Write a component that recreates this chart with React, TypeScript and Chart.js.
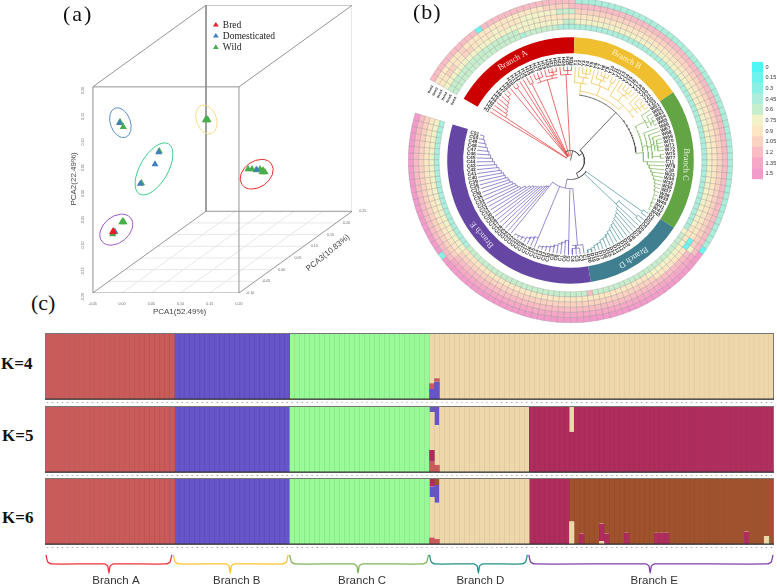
import { useEffect, useRef } from 'react';
import { Chart, registerables } from 'chart.js';
Chart.register(...registerables);

const SERIF = '"Liberation Serif"';
const SANS = '"Liberation Sans"';

// ---------- (a) PCA, read against the front-face axes ----------
const PCA_X_TICKS = [-0.05, 0, 0.05, 0.1, 0.15, 0.2];
const PCA_Y_TICKS = [-0.2, -0.15, -0.1, -0.05, 0, 0.05, 0.1, 0.15, 0.2];
const PCA_Z_TICKS = ['-0.10', '-0.05', '0.00', '0.05', '0.10', '0.15', '0.20', '0.25'];
const BRED = [{ x: -0.0148, y: -0.0802 }, { x: -0.0161, y: -0.0821 }];
const DOMESTICATED = [
  { x: -0.0042, y: 0.1301 }, { x: 0.0628, y: 0.0732 }, { x: 0.0565, y: 0.0499 },
  { x: 0.0314, y: 0.0121 }, { x: 0.2303, y: 0.0392 }, { x: -0.0119, y: -0.0812 },
];
const WILD = [
  { x: -0.0033, y: 0.132 }, { x: 0.0023, y: 0.1223 }, { x: 0.0637, y: 0.0751 }, { x: 0.0334, y: 0.013 },
  { x: 0.1437, y: 0.1367 }, { x: 0.1454, y: 0.1373 }, { x: 0.1428, y: 0.1353 }, { x: 0.1471, y: 0.1353 },
  { x: 0.2155, y: 0.0402 }, { x: 0.2223, y: 0.0402 }, { x: 0.2291, y: 0.0383 }, { x: 0.236, y: 0.0402 },
  { x: 0.2411, y: 0.0383 }, { x: 0.2445, y: 0.0344 }, { x: 0.2394, y: 0.0344 },
  { x: 0, y: -0.0627 }, { x: 0.0034, y: -0.0627 }, { x: 0.0017, y: -0.0608 }, { x: -0.0158, y: -0.086 }, { x: -0.0136, y: -0.0821 },
];
const PCA_RINGS = [
  { x: -0.0027, y: 0.1305, a: 15.5, b: 10, rot: 70, color: '#5b8fc7' },
  { x: 0.1443, y: 0.1367, a: 15, b: 10, rot: 70, color: '#fbdc82' },
  { x: 0.0548, y: 0.0408, a: 29, b: 14, rot: -60, color: '#3ecf8c' },
  { x: 0.2303, y: 0.0305, a: 18, b: 13, rot: -35, color: '#ee2b2b' },
  { x: -0.0097, y: -0.0771, a: 18.5, b: 13, rot: -40, color: '#9b59c9' },
];
const DEPTH_X = 0.1937;
const DEPTH_Y = 0.1586;

// ---------- (b) ring heat map: legend level of each sample, outer ring first ----------
const LEVEL_LABELS = ['0', '0.15', '0.3', '0.45', '0.6', '0.75', '0.9', '1.05', '1.2', '1.35', '1.5'];
const LEVEL_COLORS = ['#4ff6f6', '#6ff3ee', '#8cefe4', '#abeedb', '#c6eecd', '#f2f1c8', '#fde6c4', '#fbd2c2', '#f9bcc4', '#f6a8c6', '#f39bca'];
const RING_1 = [
  8,8,8,8,8,8,8,8,8,8, 1,8,8,8,8,8,8,8,8,8, 8,8,8,8,8,8,
  3,3,3,3,3,3,3,3,3,3, 3,3,3,3,3,3,3,3,3,3, 3,3,3,
  3,3,3,3,3,3,3,3,3,3, 3,3,3,3,3,3,3,3,3,3, 3,3,3,3,3,3,3,3,
  1,10,10,10,10,10,10,10,10,10, 10,10,10,10,10,10,10,10,10,10,
  10,10,10,10,10,10,10,10,10,10, 10,10,10,10,10,10,10,10,10,10, 10,10,10,10,10,10,2,10,10,10, 10,10,10,10,10,10,10,10,10,10, 10,10,10,10,10,10,10,10,10,
];
const RING_2 = [
  6,6,6,6,6,6,7,6,6,6, 6,6,6,6,6,6,6,6,6,6, 6,7,7,7,7,8,
  8,8,8,8,8,8,8,8,8,8, 8,8,8,8,8,8,8,8,8,8, 8,8,8,
  8,8,8,8,8,8,8,8,8,8, 8,8,8,8,8,8,8,8,8,8, 8,8,8,8,8,8,8,8,
  8,8,9,9,9,9,9,9,9,9, 9,9,9,9,9,9,9,9,9,9,
  9,9,9,9,9,9,9,9,9,9, 9,9,9,9,9,9,9,9,9,9, 9,9,9,9,9,8,8,8,8,8, 8,8,8,8,8,8,8,8,8,8, 8,8,8,8,8,8,8,8,8,
];
const RING_3 = [
  6,6,7,7,6,6,7,7,6,6, 6,6,5,6,6,6,6,5,5,5, 5,5,5,4,4,4,
  7,7,7,7,7,7,7,7,7,7, 7,7,7,7,7,7,7,7,7,7, 7,7,7,
  7,7,7,7,7,7,7,7,7,7, 7,7,7,7,7,7,7,7,7,7, 7,7,7,7,7,7,7,7,
  7,5,8,8,8,8,8,8,8,8, 8,8,8,8,8,8,8,8,8,8,
  8,8,8,8,8,8,8,8,8,8, 8,8,8,8,8,8,8,8,8,8, 8,8,8,8,8,7,7,7,7,7, 7,7,7,7,7,7,7,7,7,7, 7,7,7,7,7,7,7,7,7,
];
const RING_4 = [
  5,5,5,5,5,5,5,5,5,5, 5,5,5,5,5,5,5,5,5,5, 6,6,6,6,6,6,
  6,6,6,6,6,6,6,6,6,6, 6,6,6,6,6,6,6,6,6,6, 6,6,6,
  6,6,6,6,6,6,6,6,6,6, 6,6,6,6,6,6,6,6,6,6, 6,6,6,6,6,6,6,6,
  1,1,6,6,6,6,6,6,6,7, 7,7,7,7,7,7,7,7,7,7,
  7,7,7,7,7,7,7,7,7,7, 7,7,7,7,7,7,7,7,7,7, 7,7,7,7,7,6,6,6,6,6, 6,6,6,6,6,6,6,6,6,6, 6,6,6,6,6,6,6,6,6,
];
const RING_5 = [
  4,4,4,4,4,4,4,4,4,4, 4,4,4,4,4,4,5,5,5,5, 5,5,5,5,4,4,
  5,5,5,5,5,5,5,5,5,5, 5,5,5,5,5,5,5,5,5,5, 5,5,5,
  5,5,5,5,5,5,5,5,5,5, 5,5,5,5,5,5,5,5,5,5, 5,5,5,5,5,5,6,6,
  6,5,5,5,5,5,5,5,5,5, 6,6,6,6,6,6,6,6,6,6,
  6,6,6,6,6,6,6,6,6,6, 6,6,6,6,6,6,6,6,6,6, 6,6,6,6,6,5,5,5,5,5, 5,5,5,5,5,5,5,5,5,5, 5,5,5,5,5,5,5,5,5,
];
const RING_6 = [
  4,4,4,4,4,4,4,4,4,4, 4,4,4,4,4,4,3,4,4,4, 4,4,4,3,3,3,
  3,3,3,3,3,3,3,3,3,3, 3,3,3,3,3,3,3,3,3,3, 3,3,3,
  3,3,3,3,3,3,3,3,3,3, 3,3,3,3,3,3,3,3,3,3, 3,3,3,3,3,3,3,5,
  4,4,4,4,4,4,4,4,4,4, 4,4,4,4,4,4,4,4,4,4,
  8,4,4,4,4,4,4,4,4,4, 4,4,4,4,4,4,4,4,4,4, 4,4,4,4,4,3,3,3,3,3, 3,3,3,3,3,3,3,3,3,3, 3,3,3,3,3,3,3,3,3,
];
const RINGS = [RING_1, RING_2, RING_3, RING_4, RING_5, RING_6];
const BRANCH_NAMES = ['Branch A', 'Branch B', 'Branch C', 'Branch D', 'Branch E'];
const BRANCH_SIZES = [26, 23, 28, 20, 49];
const BRANCH_FILL = ['#cc0000', '#f0bf30', '#63a545', '#3f7f8f', '#6547a3'];
const BRANCH_TEXT_ANGLE = [330, 29, 92, 147, 230];
const BRANCH_TEXT_COLOR = ['#ffe0e0', '#fff4c8', '#e8f2dc', '#e0eef2', '#e4dcf4'];
const TREE_COLORS = ['#e84848', '#f5c451', '#8dbf6f', '#5f9ea8', '#7d6cc4'];
const RING_NAMES = ['Item1', 'Item2', 'Item3', 'Item4', 'Item5', 'Item6'];
const START_DEG = 300;
const STEP_DEG = 347 / 146;
const SAMPLE_NAMES = 'H1 H2 H3 H4 H5 H6 H7 H8 H9 H10 H11 H12 H13 H14 H15 H16 H17 H18 H19 H20 H21 H22 H23 H24 H25 H26 Y1 Y2 Y3 Y4 Y5 Y6 Y7 Y8 Y9 Y10 Y11 Y12 Y13 Y14 Y15 Y16 Y17 Y18 Y19 Y20 Y21 Y22 Y23 W61 W62 W63 W64 W65 W66 W67 W68 W69 W70 W71 W72 W75 W77 C11 W78 C18 W33 W34 W35 W36 W37 W38 W39 W40 W41 W42 W43 D1 D2 D3 D4 D5 D6 D7 D8 D9 D10 D11 D12 D13 D14 D15 D16 D17 D18 D19 D20 C1 C2 C3 C4 C5 C6 C7 C8 C9 C10 C12 C13 C14 C15 C16 C17 C19 C20 C21 C22 C23 C24 C25 C26 C27 C28 C29 C30 C31 C32 C33 C34 C35 C36 C37 C38 C39 C40 C41 C42 C43 C44 C45 C46 C47 C48 C49 C50 C51'.split(' ');

// tree: [first leaf, last leaf, arc radius, parent radius, stem leaf]
const CLADES_ROOT = [[12, 50, 10, 0, 30], [43, 90, 14, 10, 50], [77.5, 105, 19, 14, 90], [28, 60, 66, 14, 43]];
const CLADES_A = [[0, 25, 5, 10, 12], [9, 10, 90, 5], [13, 14, 86, 5], [15, 21, 84, 5], [15, 17, 88, 84], [18, 21, 87, 84], [19, 21, 90, 87], [22, 25, 86, 5], [23, 25, 90, 86]];
const CLADES_B = [[28, 43, 70, 66, 28], [26, 30, 78, 70], [27, 30, 84, 78], [28, 30, 88, 84], [31, 37, 80, 70], [32, 35, 86, 80], [33, 35, 90, 86], [36, 37, 88, 80], [38, 48, 76, 70], [39, 43, 84, 76], [40, 43, 88, 84], [44, 48, 82, 76], [45, 48, 86, 82], [46, 48, 90, 86]];
const CLADES_C = [[51, 63, 73, 66, 60], [49, 53, 84, 73], [50, 53, 88, 84], [51, 53, 91, 88], [54, 62, 78, 73], [55, 62, 82, 78], [56, 60, 85, 82], [57, 60, 88, 85], [61, 62, 90, 82]];
const CLADES_D = [[77, 78, 88, 19, 77.5], [79, 81, 63, 19, 81], [79, 80, 87, 63]];
const CLADES_E = [[98.5, 117, 28, 19, 105], [97, 100, 85, 28, 98.5], [98, 100, 88, 85]];
// combs: [first leaf, parent radius, radii of the successive nodes]
const COMBS_A = [[1, 5, [78, 80, 82, 84, 86, 89]]];
const COMBS_B = [];
const COMBS_C = [[63, 73, [77, 79, 81, 83, 85, 87, 88, 89, 90, 90.5, 91, 91.5, 92]]];
const COMBS_D = [[81, 63, [66, 68, 70, 72, 74, 76, 78, 80, 82, 84, 85, 87, 88, 90, 91]]];
const COMBS_E = [[101, 28, [80, 82, 84, 86, 88, 89, 90, 91]], [110, 28, [84, 86, 88, 90, 91, 91.5]], [117, 28, [34, 35, 37, 39, 41, 43, 45, 48, 52, 57, 59, 60, 62, 64, 65, 67, 68, 70, 72, 74, 76, 78, 80, 82, 84, 86, 88, 90]]];
const BRANCH_TREES = [[CLADES_A, COMBS_A, 0, 25], [CLADES_B, COMBS_B, 26, 48], [CLADES_C, COMBS_C, 49, 76], [CLADES_D, COMBS_D, 77, 96], [CLADES_E, COMBS_E, 97, 145]];

// ---------- (c) structure plots ----------
const Z_A = [0,0,0,0,0,0,0,0,0,0,0,0,0,0,0,0,0,0,0,0,0,0,0,0,0,0];
const O_A = [1,1,1,1,1,1,1,1,1,1,1,1,1,1,1,1,1,1,1,1,1,1,1,1,1,1];
const Z_B = [0,0,0,0,0,0,0,0,0,0,0,0,0,0,0,0,0,0,0,0,0,0,0];
const O_B = [1,1,1,1,1,1,1,1,1,1,1,1,1,1,1,1,1,1,1,1,1,1,1];
const Z_C = [0,0,0,0,0,0,0,0,0,0,0,0,0,0,0,0,0,0,0,0,0,0,0,0,0,0,0,0];
const O_C = [1,1,1,1,1,1,1,1,1,1,1,1,1,1,1,1,1,1,1,1,1,1,1,1,1,1,1,1];
const Z_D = [0,0,0,0,0,0,0,0,0,0,0,0,0,0,0,0,0,0,0,0];
const Z_E = [0,0,0,0,0,0,0,0,0,0, 0,0,0,0,0,0,0,0,0,0, 0,0,0,0,0,0,0,0,0,0, 0,0,0,0,0,0,0,0,0,0, 0,0,0,0,0,0,0,0,0];
const O_E = [1,1,1,1,1,1,1,1,1,1, 1,1,1,1,1,1,1,1,1,1, 1,1,1,1,1,1,1,1,1,1, 1,1,1,1,1,1,1,1,1,1, 1,1,1,1,1,1,1,1,1];

const K4_BLUE = [...Z_A, ...O_B, ...Z_C, .15,.26,0,0,0,0,0,0,0,0,0,0,0,0,0,0,0,0,0,0, ...Z_E];
const K4_RED = [...O_A, ...Z_B, ...Z_C, .09,.055,0,0,0,0,0,0,0,0,0,0,0,0,0,0,0,0,0,0, ...Z_E];
const K4_GREEN = [...Z_A, ...Z_B, ...O_C, ...Z_D, ...Z_E];
const K4_PALE = [...Z_A, ...Z_B, ...Z_C, .76,.685,1,1,1,1,1,1,1,1,1,1,1,1,1,1,1,1,1,1, ...O_E];

const K5_RED = [...O_A, ...Z_B, ...Z_C, .155,.11,0,0,0,0,0,0,0,0,0,0,0,0,0,0,0,0,0,0, ...Z_E];
const K5_MAROON = [...Z_A, ...Z_B, ...Z_C, .18,0,0,0,0,0,0,0,0,0,0,0,0,0,0,0,0,0,0,0,
  1,1,1,1,1,1,1,1,.61,1, 1,1,1,1,1,1,1,1,1,1, 1,1,1,1,1,1,1,1,1,1, 1,1,1,1,1,1,1,1,1,1, 1,1,1,1,1,1,1,1,1];
const K5_GREEN = K4_GREEN;
const K5_PALE = [...Z_A, ...Z_B, ...Z_C, .575,.6,1,1,1,1,1,1,1,1,1,1,1,1,1,1,1,1,1,1,
  0,0,0,0,0,0,0,0,.39,0, 0,0,0,0,0,0,0,0,0,0, 0,0,0,0,0,0,0,0,0,0, 0,0,0,0,0,0,0,0,0,0, 0,0,0,0,0,0,0,0,0];
const K5_BLUE = [...Z_A, ...O_B, ...Z_C, .09,.29,0,0,0,0,0,0,0,0,0,0,0,0,0,0,0,0,0,0, ...Z_E];

const K6_RED = [...O_A, ...Z_B, ...Z_C, .10,.075,0,0,0,0,0,0,0,0,0,0,0,0,0,0,0,0,0,0, ...Z_E];
const K6_GREEN = K4_GREEN;
const K6_PALE = [...Z_A, ...Z_B, ...Z_C, .61,.55,1,1,1,1,1,1,1,1,1,1,1,1,1,1,1,1,1,1,
  0,0,0,0,0,0,0,0,.34,0, 0,0,0,0,.04,0,0,0,0,0, 0,0,0,0,0,0,0,0,0,0, 0,0,0,0,0,0,0,0,0,0, 0,0,0,0,0,0,0,.12,0];
const K6_BLUE = [...Z_A, ...O_B, ...Z_C, .16,.27,0,0,0,0,0,0,0,0,0,0,0,0,0,0,0,0,0,0, ...Z_E];
const K6_MAROON = [...Z_A, ...Z_B, ...Z_C, .13,0,0,0,0,0,0,0,0,0,0,0,0,0,0,0,0,0,0,0,
  1,1,1,1,1,1,1,1,0,0, .16,0,0,0,.27,.16,0,0,0,.17, 0,0,0,0,0,.17,.17,.17,0,0, 0,0,0,0,0,0,0,0,0,0, 0,0,0,.19,0,0,0,0,0];
const K6_BROWN = [...Z_A, ...Z_B, ...Z_C, 0,.1,0,0,0,0,0,0,0,0,0,0,0,0,0,0,0,0,0,0,
  0,0,0,0,0,0,0,0,.66,1, .84,1,1,1,.69,.84,1,1,1,.83, 1,1,1,1,1,.83,.83,.83,1,1, 1,1,1,1,1,1,1,1,1,1, 1,1,1,.81,1,1,1,.88,1];

const CLUSTER = {
  red: ['#c95b5a', '#b54e4e'], blue: ['#6655c8', '#5a4ab8'], green: ['#98fb98', '#7fe081'],
  pale: ['#eed7ab', '#d8c08f'], maroon: ['#ae2d5c', '#9c2751'], brown: ['#9f522c', '#8d4726'],
};
const K4_SERIES = [[K4_BLUE, 'blue'], [K4_RED, 'red'], [K4_GREEN, 'green'], [K4_PALE, 'pale']];
const K5_SERIES = [[K5_RED, 'red'], [K5_MAROON, 'maroon'], [K5_GREEN, 'green'], [K5_PALE, 'pale'], [K5_BLUE, 'blue']];
const K6_SERIES = [[K6_RED, 'red'], [K6_GREEN, 'green'], [K6_PALE, 'pale'], [K6_BLUE, 'blue'], [K6_MAROON, 'maroon'], [K6_BROWN, 'brown']];

// braces, in sample positions along the bars
const BRACE_START = [0.2, 25.7, 49, 77, 96.9];
const BRACE_TIP = [12.8, 37.1, 62.7, 86.8, 121.2];
const BRACE_END = [25.4, 48.7, 76.8, 96.6, 145.8];
const BRACE_LABEL_AT = [14.2, 38.4, 63.5, 87.2, 122];
const BRACE_COLORS = ['#f5303a', '#fdc42b', '#80b45a', '#1f918d', '#7f3fa8'];

const NO_UI = { legend: { display: false }, tooltip: { enabled: false } };
const NO_GRID = { display: false, drawTicks: false };

function pcaConfig(): any {
  const cube: any[] = [];
  const floor: any[] = [];
  const seg = (arr: any[], x0: number, y0: number, x1: number, y1: number) => {
    arr.push({ x: x0, y: y0 }, { x: x1, y: y1 }, { x: null, y: null });
  };
  const L = -0.05, R = 0.2, B = -0.2, T = 0.2;
  for (const v of PCA_X_TICKS.slice(1, -1)) seg(floor, v, B, v + DEPTH_X, B + DEPTH_Y);
  for (let k = 1; k < PCA_Z_TICKS.length - 1; k++) {
    const f = k / (PCA_Z_TICKS.length - 1);
    seg(floor, L + DEPTH_X * f, B + DEPTH_Y * f, R + DEPTH_X * f, B + DEPTH_Y * f);
  }
  seg(cube, L, B, R, B); seg(cube, R, B, R, T); seg(cube, R, T, L, T); seg(cube, L, T, L, B);
  const bL = L + DEPTH_X, bR = R + DEPTH_X, bB = B + DEPTH_Y, bT = T + DEPTH_Y;
  seg(cube, bL, bB, bR, bB); seg(cube, bR, bB, bR, bT); seg(cube, bR, bT, bL, bT); seg(cube, bL, bT, bL, bB);
  seg(cube, L, T, bL, bT); seg(cube, R, T, bR, bT); seg(cube, R, B, bR, bB); seg(cube, L, B, bL, bB);
  const pts = (label: string, data: any[], color: string, r: number) => ({
    label, data, pointStyle: 'triangle', pointRadius: r, backgroundColor: color, borderColor: color, borderWidth: 0, showLine: false,
  });
  const line = (data: any[], color: string, w: number) => ({
    data, showLine: true, borderColor: color, borderWidth: w, pointRadius: 0, spanGaps: false,
  });
  return {
    type: 'scatter',
    data: {
      datasets: [
        pts('Bred', BRED, '#ee1c25', 4.2),
        pts('Domesticated', DOMESTICATED, '#3f7fc0', 4),
        pts('Wild', WILD, '#49ae4b', 4.2),
        line(cube, '#8a8a8a', 0.9),
        line(floor, '#e2e2e2', 0.8),
      ],
    },
    options: {
      responsive: false, animation: false, layout: { padding: { top: 0, right: 24, left: 0, bottom: 0 } },
      plugins: NO_UI,
      scales: {
        x: {
          type: 'linear', min: -0.05, max: 0.3932, grid: NO_GRID, border: { display: false },
          afterBuildTicks: (s: any) => { s.ticks = PCA_X_TICKS.map((value) => ({ value })); },
          afterFit: (s: any) => { s.height = 27; },
          ticks: { font: { size: 3.6, family: SANS }, color: '#666', padding: 9, maxRotation: 0, autoSkip: false, callback: (v: number) => v.toFixed(2) },
        },
        y: {
          type: 'linear', min: -0.2, max: 0.3586, grid: NO_GRID, border: { display: false },
          afterBuildTicks: (s: any) => { s.ticks = PCA_Y_TICKS.map((value) => ({ value })); },
          afterFit: (s: any) => { s.width = 26.7; },
          ticks: { font: { size: 3.6, family: SANS }, color: '#666', padding: 10, minRotation: 90, maxRotation: 90, autoSkip: false, callback: (v: number) => v.toFixed(2) },
        },
      },
    },
    plugins: [{
      id: 'pcaExtras',
      afterDatasetsDraw(chart: any) {
        const { ctx, scales: { x, y } } = chart;
        ctx.save();
        for (const e of PCA_RINGS) {
          ctx.beginPath();
          ctx.ellipse(x.getPixelForValue(e.x), y.getPixelForValue(e.y), e.a, e.b, e.rot * Math.PI / 180, 0, Math.PI * 2);
          ctx.strokeStyle = e.color; ctx.lineWidth = 1; ctx.stroke();
        }
        ctx.fillStyle = '#666'; ctx.font = `3.6px ${SANS}`; ctx.textAlign = 'left'; ctx.textBaseline = 'middle';
        PCA_Z_TICKS.forEach((t, k) => {
          const f = k / (PCA_Z_TICKS.length - 1);
          ctx.fillText(t, x.getPixelForValue(0.2 + DEPTH_X * f) + 7, y.getPixelForValue(-0.2 + DEPTH_Y * f));
        });
        ctx.fillStyle = '#444'; ctx.font = `8px ${SANS}`; ctx.textAlign = 'center';
        ctx.fillText('PCA1(52.49%)', x.getPixelForValue(0.0985), y.getPixelForValue(-0.2) + 19);
        ctx.save();
        ctx.translate(x.getPixelForValue(-0.05) - 18.5, y.getPixelForValue(0.0));
        ctx.translate(0, -11); ctx.rotate(-Math.PI / 2);
        ctx.fillText('PCA2(22.49%)', -0, 0);
        ctx.restore();
        ctx.save();
        ctx.translate(x.getPixelForValue(0.2) + 89, y.getPixelForValue(-0.2) - 40);
        ctx.rotate(-39 * Math.PI / 180);
        ctx.fillText('PCA3(10.83%)', 0, 0);
        ctx.restore();
        const lx = x.getPixelForValue(0.1605);
        const rows: any[] = [['Bred', '#ee1c25', 0.321], ['Domesticated', '#3f7fc0', 0.2995], ['Wild', '#49ae4b', 0.2775]];
        ctx.font = `9.5px ${SERIF}`; ctx.textAlign = 'left'; ctx.fillStyle = '#222';
        rows.forEach(([t, c, v]) => {
          const py = y.getPixelForValue(v);
          ctx.fillStyle = c;
          ctx.beginPath(); ctx.moveTo(lx, py - 2.6); ctx.lineTo(lx + 2.9, py + 2); ctx.lineTo(lx - 2.9, py + 2); ctx.closePath(); ctx.fill();
          ctx.fillStyle = '#222';
          ctx.fillText(t, lx + 7, py + 0.5);
        });
        ctx.restore();
      },
    }],
  };
}

function ringConfig(): any {
  const spacer = { data: [146], backgroundColor: ['rgba(0,0,0,0)'], borderWidth: 0, weight: 8 / 5.17 };
  return {
    type: 'doughnut',
    data: {
      labels: SAMPLE_NAMES,
      datasets: [
        ...RINGS.map((r) => ({
          data: r.map(() => 1), backgroundColor: r.map((v) => LEVEL_COLORS[v]),
          borderColor: 'rgba(120,120,120,0.45)', borderWidth: 0.5, weight: 1,
        })),
        spacer,
        { data: BRANCH_SIZES, backgroundColor: BRANCH_FILL, borderWidth: 0, weight: 16 / 5.17 },
      ],
    },
    options: {
      responsive: false, animation: false, rotation: START_DEG, circumference: 347, cutout: '66.15%',
      layout: { padding: 0 }, plugins: NO_UI,
    },
    plugins: [{
      id: 'ringText',
      afterDatasetsDraw(chart: any) {
        const { ctx, chartArea: a } = chart;
        const cx = (a.left + a.right) / 2, cy = (a.top + a.bottom) / 2;
        ctx.save();
        ctx.textAlign = 'center'; ctx.textBaseline = 'middle';
        ctx.font = `8.5px ${SERIF}`;
        BRANCH_NAMES.forEach((t, i) => {
          const th = BRANCH_TEXT_ANGLE[i] * Math.PI / 180;
          ctx.save();
          ctx.translate(cx + 115.5 * Math.sin(th), cy - 115.5 * Math.cos(th));
          ctx.rotate(th);
          ctx.fillStyle = BRANCH_TEXT_COLOR[i];
          ctx.fillText(t, 0, 0);
          ctx.restore();
        });
        ctx.font = `bold 3.4px ${SANS}`; ctx.fillStyle = '#222';
        RING_NAMES.forEach((t, i) => {
          const r = 160 - i * 5.17 - 3;
          const th = 297 * Math.PI / 180;
          ctx.save();
          ctx.translate(cx + r * Math.sin(th), cy - r * Math.cos(th));
          ctx.rotate(th);
          ctx.fillText(t, 0, 0);
          ctx.restore();
        });
        ctx.restore();
      },
    }],
  };
}

function treeConfig(): any {
  const P = (i: number, r: number) => {
    const th = (START_DEG + STEP_DEG * (i + 0.5)) * Math.PI / 180;
    return { x: r * Math.sin(th), y: r * Math.cos(th) };
  };
  const BREAK = { x: null, y: null };
  const arc = (out: any[], a: number, b: number, r: number) => {
    for (let i = a; i < b; i += 0.5) out.push(P(i, r));
    out.push(P(b, r), BREAK);
  };
  const stem = (out: any[], i: number, r0: number, r1: number) => { out.push(P(i, r0), P(i, r1), BREAK); };
  const clade = (out: any[], c: number[]) => {
    const [a, b, r, p, s] = c;
    arc(out, a, b, r);
    stem(out, s === undefined ? (a + b) / 2 : s, p, r);
  };
  const rootPts: any[] = [];
  CLADES_ROOT.forEach((c) => clade(rootPts, c));
  const branches = BRANCH_TREES.map((t: any, idx) => {
    const [clades, combs, first, last] = t;
    const out: any[] = [];
    const inner: Record<number, number> = {};
    clades.forEach((c: number[]) => {
      clade(out, c);
      for (let i = Math.ceil(c[0]); i <= c[1]; i++) inner[i] = Math.max(inner[i] || 0, c[2]);
    });
    combs.forEach(([start, p, radii]: any) => {
      stem(out, start, p, radii[0]);
      radii.forEach((r: number, k: number) => {
        arc(out, start + k, start + k + 1, r);
        inner[start + k] = r;
        if (k + 1 < radii.length) stem(out, start + k + 1, r, radii[k + 1]);
        else inner[start + k + 1] = r;
      });
    });
    for (let i = first; i <= last; i++) stem(out, i, inner[i] || 5, 94);
    return { data: out, showLine: true, spanGaps: false, borderColor: TREE_COLORS[idx], borderWidth: 0.8, pointRadius: 0 };
  });
  return {
    type: 'scatter',
    data: { datasets: [{ data: rootPts, showLine: true, spanGaps: false, borderColor: '#444', borderWidth: 0.8, pointRadius: 0 }, ...branches] },
    options: {
      responsive: false, animation: false, layout: { padding: 0 }, plugins: NO_UI,
      scales: { x: { type: 'linear', min: -120.5, max: 120.5, display: false }, y: { type: 'linear', min: -120.5, max: 120.5, display: false } },
    },
    plugins: [{
      id: 'leafNames',
      afterDatasetsDraw(chart: any) {
        const { ctx, scales: { x, y } } = chart;
        ctx.save();
        ctx.font = `bold 4.9px ${SANS}`; ctx.fillStyle = '#333'; ctx.textBaseline = 'middle';
        SAMPLE_NAMES.forEach((t, i) => {
          const p = P(i, 95);
          const deg = (START_DEG + STEP_DEG * (i + 0.5)) % 360;
          ctx.save();
          ctx.translate(x.getPixelForValue(p.x), y.getPixelForValue(p.y));
          if (deg < 180) { ctx.rotate((deg - 90) * Math.PI / 180); ctx.textAlign = 'left'; }
          else { ctx.rotate((deg + 90) * Math.PI / 180); ctx.textAlign = 'right'; }
          ctx.fillText(t, 0, 0);
          ctx.restore();
        });
        ctx.restore();
      },
    }],
  };
}

function scaleBarConfig(): any {
  return {
    type: 'bar',
    data: { labels: LEVEL_LABELS, datasets: [{ data: LEVEL_LABELS.map(() => 1), backgroundColor: LEVEL_COLORS, barPercentage: 1, categoryPercentage: 1, borderWidth: 0 }] },
    options: {
      indexAxis: 'y', responsive: false, animation: false, layout: { padding: 0 }, plugins: NO_UI,
      scales: {
        x: { display: false, min: 0, max: 1 },
        y: {
          position: 'right', grid: NO_GRID, border: { display: false },
          afterFit: (s: any) => { s.width = 14; },
          ticks: { font: { size: 5.5, family: SANS }, color: '#333', padding: 2.5, autoSkip: false },
        },
      },
    },
  };
}

function structureConfig(series: any[]): any {
  return {
    type: 'bar',
    data: {
      labels: SAMPLE_NAMES,
      datasets: series.map(([data, key]) => ({
        data, backgroundColor: (CLUSTER as any)[key][0], borderColor: (CLUSTER as any)[key][1],
        borderWidth: { left: 0.5, right: 0.5, top: 0, bottom: 0 }, borderSkipped: false,
        barPercentage: 1, categoryPercentage: 1,
      })),
    },
    options: {
      responsive: false, animation: false, layout: { padding: 0 }, plugins: NO_UI,
      scales: {
        x: {
          stacked: true, grid: NO_GRID, border: { display: false },
          afterFit: (s: any) => { s.height = 8; },
          ticks: { autoSkip: false, maxRotation: 0, minRotation: 0, padding: 0, color: '#8a8a8a', font: { size: 6, family: SANS, weight: 'bold' }, callback: () => '-' },
        },
        y: { stacked: true, display: false, min: 0, max: 1 },
      },
    },
    plugins: [{
      id: 'frame',
      afterDatasetsDraw(chart: any) {
        const { ctx, chartArea: a } = chart;
        ctx.save();
        ctx.strokeStyle = '#777'; ctx.lineWidth = 1;
        ctx.strokeRect(a.left + 0.5, a.top + 0.5, a.right - a.left - 1, a.bottom - a.top);
        ctx.strokeStyle = '#333';
        ctx.beginPath(); ctx.moveTo(a.left, a.bottom); ctx.lineTo(a.right, a.bottom); ctx.stroke();
        ctx.restore();
      },
    }],
  };
}

function braceConfig(): any {
  const TOP = 0.14, MID = 0.57, TIP = 1;
  return {
    type: 'scatter',
    data: {
      datasets: BRANCH_NAMES.map((_, i) => {
        const s = BRACE_START[i], t = BRACE_TIP[i], e = BRACE_END[i];
        return {
          data: [
            { x: s, y: TOP }, { x: s + 0.35, y: MID - 0.1 }, { x: s + 1.1, y: MID }, { x: t - 0.9, y: MID }, { x: t - 0.25, y: MID + 0.1 },
            { x: t, y: TIP }, { x: t + 0.25, y: MID + 0.1 }, { x: t + 0.9, y: MID }, { x: e - 1.1, y: MID }, { x: e - 0.35, y: MID - 0.1 }, { x: e, y: TOP },
          ],
          showLine: true, borderColor: BRACE_COLORS[i], borderWidth: 1.3, pointRadius: 0, tension: 0.2, clip: false,
        };
      }),
    },
    options: {
      responsive: false, animation: false, layout: { padding: 0 }, plugins: NO_UI,
      scales: {
        x: {
          type: 'linear', min: 0, max: 146, grid: NO_GRID, border: { display: false },
          afterBuildTicks: (s: any) => { s.ticks = BRACE_LABEL_AT.map((value) => ({ value })); },
          afterFit: (s: any) => { s.height = 14; },
          ticks: {
            autoSkip: false, maxRotation: 0, padding: 1, color: '#333', font: { size: 11.5, family: SANS },
            callback: (_: any, i: number) => BRANCH_NAMES[i],
          },
        },
        y: { type: 'linear', reverse: true, min: 0, max: 1, display: false },
      },
    },
  };
}

function Box({ make, left, top, width, height }: any) {
  const ref = useRef<HTMLCanvasElement>(null);
  useEffect(() => {
    const chart = new Chart(ref.current as any, make());
    return () => chart.destroy();
  }, []);
  return <canvas ref={ref} width={width} height={height} style={{ position: 'absolute', left, top, width, height, display: 'block' }} />;
}

function Tag({ text, left, base, size, bold, spacing }: any) {
  return (
    <span style={{
      position: 'absolute', left, top: base - size, lineHeight: `${size * 1.2}px`, fontFamily: SERIF, fontSize: size,
      fontWeight: bold ? 700 : 400, letterSpacing: spacing || 0, color: '#111', whiteSpace: 'pre',
    }}>{text}</span>
  );
}

export default function App() {
  return (
    <div style={{ position: 'absolute', left: 0, top: 0, width: 777, height: 587, overflow: 'hidden', background: '#fff' }}>
      <Box make={ringConfig} left={408} top={-2} width={325} height={325} />
      <Box make={treeConfig} left={450} top={40} width={241} height={241} />
      <Box make={scaleBarConfig} left={752} top={56} width={25} height={129} />
      <Box make={pcaConfig} left={66} top={-7} width={310} height={327} />
      <Box make={() => structureConfig(K4_SERIES)} left={45} top={333} width={729} height={74} />
      <Box make={() => structureConfig(K5_SERIES)} left={45} top={406} width={729} height={74} />
      <Box make={() => structureConfig(K6_SERIES)} left={45} top={478} width={729} height={74} />
      <Box make={braceConfig} left={45} top={552} width={729} height={35} />
      <Tag text="(a)" left={63} base={23} size={22} spacing={2} />
      <Tag text="(b)" left={413} base={21} size={22} spacing={1} />
      <Tag text="(c)" left={31} base={312} size={22} />
      <Tag text="K=4" left={1} base={371} size={17} bold />
      <Tag text="K=5" left={2} base={443} size={17} bold />
      <Tag text="K=6" left={2} base={525} size={17} bold />
    </div>
  );
}
